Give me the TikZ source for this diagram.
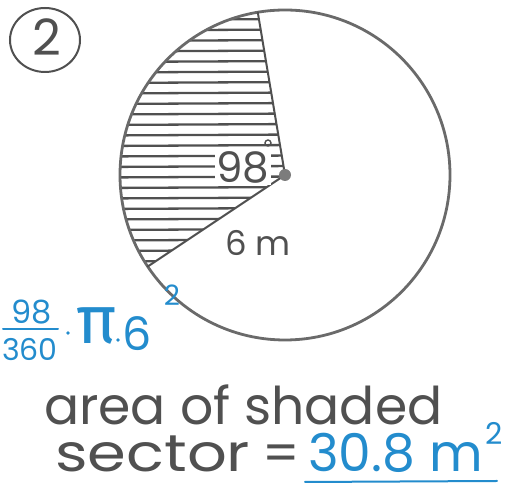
\documentclass[tikz,border=0pt]{standalone}
\usepackage{fontspec}
\setmainfont{Poppins}
\newfontfamily\greekfont{Fira Sans}
\definecolor{pen}{RGB}{80,80,80}
\definecolor{ink}{RGB}{35,140,205}
\begin{document}
\begin{tikzpicture}[x=1pt,y=1pt,
  hand/.style={draw=pen, line width=2pt, line cap=round},
  rim/.style={draw=pen!85, line width=2.8pt},
  hatch/.style={draw=pen, line width=2.3pt, line cap=round},
  pentext/.style={text=pen, inner sep=0pt},
  bluetext/.style={text=ink, inner sep=0pt},
  blueline/.style={draw=ink, line width=2pt, line cap=round}]
\useasboundingbox (0,0) rectangle (520,489);
% circle and sector
\coordinate (c) at (285,314);
\path (c) ++(99.5:165) coordinate (t);
\path (c) ++(213.7:165) coordinate (b);
\begin{scope}
  \clip (c) -- (t) arc[start angle=99.5, end angle=213.7, radius=165] -- cycle;
  \foreach \y in {469,458.5,...,226} \draw[hatch] (100,\y) -- (300,\y+1);
\end{scope}
\draw[rim] (c) circle[radius=165];
\draw[hand] (c) -- (t);
\draw[hand] (c) -- (b);
% labels in the circle
\node[pentext, fill=white, inner sep=2pt, font=\fontsize{42}{42}\selectfont] (n98) at (243,322) {98};
\draw[pen, line width=1.4pt] (268,346) circle[radius=3];
\fill[pen!75] (c) circle[radius=6];
\node[pentext, font=\fontsize{34}{34}\selectfont] (n6m) at (258,246) {6 m};
% circled number
\draw[hand] (45,449) ellipse[x radius=35, y radius=32];
\node[pentext, font=\fontsize{50}{50}\selectfont] (num) at (47,452) {2};
% blue computation
\node[bluetext, font=\fontsize{32}{32}\selectfont] (f98) at (32,177) {98};
\draw[blueline] (3,160) -- (58,160);
\node[bluetext, font=\fontsize{30}{30}\selectfont] (f360) at (30,139) {360};
\fill[ink] (68,156) circle[radius=1.8];
\node[bluetext, font=\greekfont\fontsize{68}{68}\selectfont] (pi) at (97,163) {π};
\fill[ink] (118,149) circle[radius=1.8];
\node[bluetext, font=\fontsize{46}{46}\selectfont] (six) at (137,155) {6};
\node[bluetext, font=\fontsize{28}{28}\selectfont] (sq) at (172,194) {2};
% answer
\node[pentext, anchor=base west, font=\fontsize{52}{52}\selectfont] (l1) at (44,64) {area of shaded};
\node[pentext, anchor=base west, font=\fontsize{52}{52}\selectfont] (l2) at (55,17) {\scalebox{1.2}[1]{sector}};
\node[pentext, anchor=base west, font=\fontsize{52}{52}\selectfont] (eq) at (262,17) {=};
\node[bluetext, anchor=base west, font=\fontsize{52}{52}\selectfont] (ans) at (308,17) {30.8 m};
\node[bluetext, anchor=base west, font=\fontsize{30}{30}\selectfont] (ans2) at ([xshift=2pt,yshift=27pt]ans.base east) {2};
\draw[blueline] (305,7) -- (497,8);
\end{tikzpicture}
\end{document}
